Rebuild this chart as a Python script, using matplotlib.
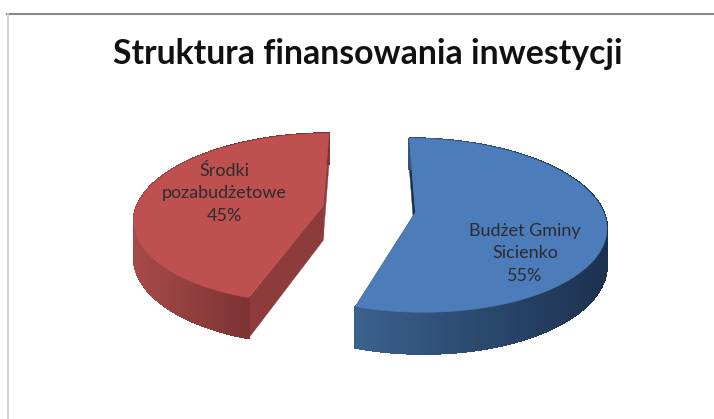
import numpy as np
import matplotlib
matplotlib.use("Agg")
import matplotlib.pyplot as plt
from matplotlib.patches import Polygon
from matplotlib.lines import Line2D
from matplotlib.colors import to_rgb

title = "Struktura finansowania inwestycji"
categories = ["Budżet Gminy\nSicienko", "Środki\npozabudżetowe"]
values = [55, 45]
percent_labels = ["55%", "45%"]

top_colors = ["#4c7dba", "#be5150"]
rim_light = ["#3a608c", "#a64a49"]
rim_dark = ["#1c3150", "#7d3433"]
flat_wall = ["#1c3150", "#8e3c3b"]
label_pos = [(525, 253), (224, 193)]

# pie projection (pixel units)
CX, CY, A, B, K, DEPTH, EXPLODE = 369, 209, 187, 84, 0.149, 35, 0.25


def project(X, Y, z=0.0):
    w = 1 + K * np.asarray(Y)
    return CX + A * np.asarray(X) / w, CY - B * np.asarray(Y) / w + z / w


fig = plt.figure(figsize=(7.14, 4.19), dpi=100)
ax = fig.add_axes([0, 0, 1, 1])
ax.set_xlim(0, 714)
ax.set_ylim(419, 0)
ax.axis("off")

fractions = np.array(values, float) / sum(values)
start = 0.0
for i, frac in enumerate(fractions):
    a0, a1 = start, start + frac * 2 * np.pi   # clockwise from 12 o'clock
    start = a1
    mid = (a0 + a1) / 2
    ox, oy = EXPLODE * np.sin(mid), EXPLODE * np.cos(mid)
    t = np.linspace(a0, a1, 181)
    rx, ry = ox + np.sin(t), oy + np.cos(t)
    tx, ty = project(rx, ry)
    bx, by = project(rx, ry, DEPTH)
    apx, apy = project(ox, oy)
    abx, aby = project(ox, oy, DEPTH)

    # flat walls along the two radii
    for j in (0, -1):
        ax.add_patch(Polygon([(tx[j], ty[j]), (apx, apy), (abx, aby), (bx[j], by[j])],
                             closed=True, fc=flat_wall[i], ec=flat_wall[i], lw=0.3, zorder=2))
    # curved rim with horizontal shading
    xmin, xmax = tx[ty > CY - 5].min(), tx[ty > CY - 5].max()
    c0, c1 = np.array(to_rgb(rim_light[i])), np.array(to_rgb(rim_dark[i]))
    for n in range(len(t) - 1):
        xm = (tx[n] + tx[n + 1]) / 2
        s = np.clip((xm - xmin) / (xmax - xmin), 0, 1)
        if i == 1:
            s = np.clip((xm - xmin) / (apx - 80 - xmin), 0, 1)
        col = c0 + (c1 - c0) * s
        ax.add_patch(Polygon([(tx[n], ty[n]), (tx[n + 1], ty[n + 1]),
                              (bx[n + 1], by[n + 1]), (bx[n], by[n])],
                             closed=True, fc=col, ec=col, lw=1.0, zorder=3,
                             antialiased=False))
    # top surface
    ax.add_patch(Polygon(np.column_stack([np.r_[apx, tx], np.r_[apy, ty]]),
                         closed=True, fc=top_colors[i], ec=top_colors[i], lw=0.4, zorder=4))
    ax.text(*label_pos[i], f"{categories[i]}\n{percent_labels[i]}", ha="center", va="center",
            family="Lato", fontsize=13, color="#2b2b30", linespacing=1.5, zorder=5)

ax.text(368, 54, title, ha="center", va="center", family="Lato", fontsize=24.3,
        fontweight="bold", color="#111111", zorder=5)

fig.add_artist(Line2D([7 / 714, 1], [1 - 14 / 419, 1 - 14 / 419], color="#8a8a8a", lw=1.5))
fig.add_artist(Line2D([7.5 / 714, 7.5 / 714], [0, 1 - 14 / 419], color="#d0d0d0", lw=1.2))

fig.savefig("out.png", dpi=100, facecolor="white")
